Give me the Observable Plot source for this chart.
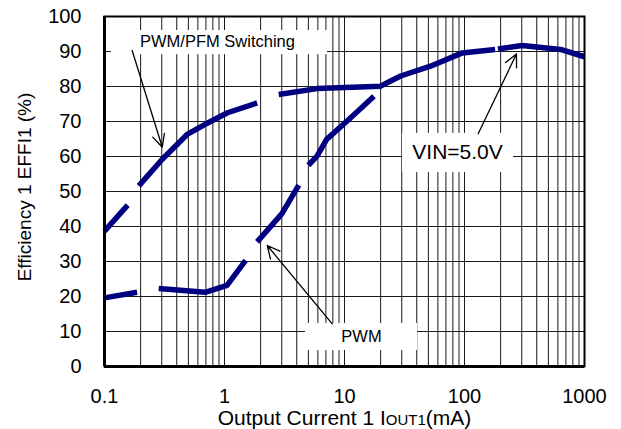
<!DOCTYPE html>
<html><head><meta charset="utf-8">
<script src="https://cdn.jsdelivr.net/npm/d3@7"></script>
<script src="https://cdn.jsdelivr.net/npm/@observablehq/plot@0.6"></script>
<style>body{margin:0;background:#fff} svg{display:block}</style>
</head><body><div id="chart"></div>
<script>
// Series: PWM/PFM switching (null = gap between dashes)
const pfmX = [0.1, 0.156, null, 0.193, 0.303, 0.488, 0.69, 1.06, 1.87, null, 2.83, 5.9, 20, 24, 29.4, 52, 95.9, 180, null, 190, 302, 631, 1000];
const pfmY = [38.7, 46.1, null, 51.6, 59.2, 66.3, 69.2, 72.5, 75.3, null, 77.7, 79.4, 80.1, 81.5, 83.0, 85.8, 89.6, 90.6, null, 90.7, 91.7, 90.6, 88.5];
// Series: PWM
const pwmX = [0.1, 0.187, null, 0.283, 0.69, 1.05, 1.5, null, 1.87, 3.0, 4.16, null, 5.0, 5.9, 7.1, 11.2, 17.6];
const pwmY = [19.6, 21.2, null, 22.3, 21.2, 23.2, 30.3, null, 35.6, 43.6, 51.8, null, 57.5, 60.1, 64.9, 71.0, 77.2];

// Axis ticks
const xTicks = [0.1, 1, 10, 100, 1000];
const xTickLabels = ["0.1", "1", "10", "100", "1000"];
const yTicks = [0, 10, 20, 30, 40, 50, 60, 70, 80, 90, 100];
const xTitle = "Output Current 1 IOUT1(mA)";
const yTitle = "Efficiency 1 EFFI1 (%)";

// Annotations
const labelText = ["PWM/PFM Switching", "PWM", "VIN=5.0V"];
const labelX = [0.874, 13.86, 87.5];
const labelY = [92.66, 8.37, 61.3];
const boxX1 = [0.114, 4.73, 30.4];
const boxX2 = [7.21, 40.6, 256];
const boxY1 = [89.1, 4.57, 55.4];
const boxY2 = [96.0, 12.3, 66.6];
const arrowX1 = [0.170, 7.90, 130];
const arrowY1 = [90.3, 12.2, 66.5];
const arrowX2 = [0.303, 2.27, 271];
const arrowY2 = [62.66, 34.57, 89.3];

const minor = [];
for (const d of [0.1, 1, 10, 100]) for (let k = 1; k <= 9; k++) minor.push(+(k * d).toPrecision(3));
minor.push(1000);

const idx = a => a.map((_, i) => i);
const navy = "#000080";

const chart = Plot.plot({
  width: 621, height: 429,
  marginLeft: 104, marginRight: 37, marginTop: 16, marginBottom: 63,
  style: {fontFamily: "'Liberation Sans', Arial, sans-serif", background: "white", color: "black"},
  x: {type: "log", domain: [0.1, 1000]},
  y: {domain: [0, 100]},
  marks: [
    Plot.gridX({ticks: minor, stroke: "#1a1a1a", strokeOpacity: 1, strokeWidth: 1}),
    Plot.gridY({ticks: yTicks, stroke: "#1a1a1a", strokeOpacity: 1, strokeWidth: 1}),
    Plot.rect(idx(boxX1), {x1: i => boxX1[i], x2: i => boxX2[i], y1: i => boxY1[i], y2: i => boxY2[i], fill: "white"}),
    Plot.line(idx(pfmX), {x: i => pfmX[i], y: i => pfmY[i], stroke: navy, strokeWidth: 5.5, strokeLinecap: "butt", strokeLinejoin: "round"}),
    Plot.line(idx(pwmX), {x: i => pwmX[i], y: i => pwmY[i], stroke: navy, strokeWidth: 5.5, strokeLinecap: "butt", strokeLinejoin: "round"}),
    Plot.frame({stroke: "black", strokeWidth: 2}),
    Plot.ruleX([0.1], {stroke: "black", strokeWidth: 3}),
    Plot.ruleY([0], {stroke: "black", strokeWidth: 3}),
    Plot.axisX({ticks: xTicks, tickSize: 0, tickPadding: 22, fontSize: 20, tickFormat: (d, i) => xTickLabels[xTicks.indexOf(d)], label: null}),
    Plot.axisY({ticks: yTicks, tickSize: 0, tickPadding: 23, fontSize: 20, label: null}),
    Plot.arrow(idx(arrowX1), {x1: i => arrowX1[i], y1: i => arrowY1[i], x2: i => arrowX2[i], y2: i => arrowY2[i], stroke: "black", strokeWidth: 1.3, headLength: 16, headAngle: 52, bend: 0}),
    Plot.text([0], {x: [labelX[0]], y: [labelY[0]], text: [labelText[0]], fontSize: 16.5, fill: "black"}),
    Plot.text([1], {x: [labelX[1]], y: [labelY[1]], text: [labelText[1]], fontSize: 16.5, fill: "black"}),
    Plot.text([2], {x: [labelX[2]], y: [labelY[2]], text: [labelText[2]], fontSize: 21, fill: "black"}),
    Plot.text([yTitle], {frameAnchor: "left", textAnchor: "middle", lineAnchor: "middle", dx: -80, dy: -4.5, rotate: -90, fontSize: 19, fill: "black"}),
    Plot.text([xTitle], {frameAnchor: "bottom", textAnchor: "middle", lineAnchor: "middle", dy: 52, fontSize: 21, fill: "black"})
  ]
});
document.getElementById("chart").appendChild(chart);

// small caps style for "OUT1"
for (const t of chart.querySelectorAll("text")) {
  if (t.textContent === xTitle) {
    t.textContent = "";
    const ns = "http://www.w3.org/2000/svg";
    const parts = [["Output Current 1 I", null], ["OUT1", "15px"], ["(mA)", null]];
    for (const [s, fs] of parts) {
      const ts = document.createElementNS(ns, "tspan");
      ts.textContent = s;
      if (fs) ts.setAttribute("font-size", fs);
      t.appendChild(ts);
    }
  }
}
</script>
</body></html>
